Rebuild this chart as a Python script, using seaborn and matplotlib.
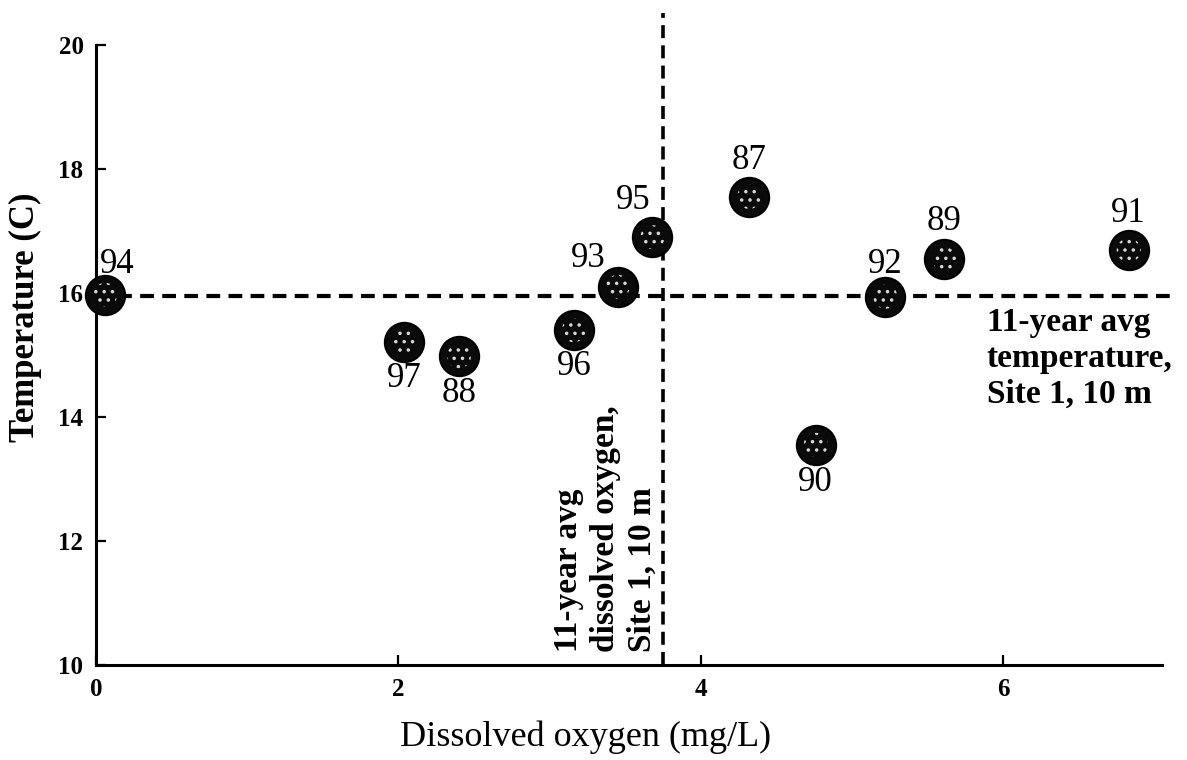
import matplotlib
matplotlib.use("Agg")
import matplotlib.pyplot as plt
import seaborn as sns
import pandas as pd

# Annual observations, Site 1 at 10 m depth
years = ["94", "97", "88", "96", "93", "95", "87", "90", "92", "89", "91"]
dissolved_oxygen = [0.06, 2.04, 2.40, 3.16, 3.45, 3.68, 4.32, 4.76, 5.22, 5.61, 6.83]
temperature = [15.97, 15.21, 14.98, 15.40, 16.10, 16.90, 17.55, 13.55, 15.94, 16.55, 16.69]

# 11-year averages
avg_oxygen = 3.75
avg_temperature = 15.95

x_ticks = [0, 2, 4, 6]
y_ticks = [10, 12, 14, 16, 18, 20]

# label placement (pixel offsets from each marker)
label_offsets = {
    "94": (12, 30), "97": (0, -37), "88": (0, -37), "96": (0, -36),
    "93": (-29, 28), "95": (-19, 37), "87": (0, 36), "90": (0, -38),
    "92": (0, 32), "89": (0, 37), "91": (0, 37),
}

df = pd.DataFrame({"year": years, "do": dissolved_oxygen, "temp": temperature})

sns.set_style("ticks")
serif = ["Liberation Serif", "DejaVu Serif"]
plt.rcParams["font.family"] = serif
plt.rcParams["text.color"] = "black"
plt.rcParams["axes.labelcolor"] = "black"
plt.rcParams["xtick.color"] = "black"
plt.rcParams["ytick.color"] = "black"
plt.rcParams["hatch.linewidth"] = 1.3

fig = plt.figure(figsize=(11.87, 7.60), dpi=100)
ax = fig.add_axes([96 / 1187, 95 / 760, (1162 - 96) / 1187, (715 - 95) / 760])

# reference lines
ax.plot([0, 7.1], [avg_temperature, avg_temperature], color="black", lw=3,
        linestyle=(0, (3.3, 2.0)), clip_on=False, zorder=2)
ax.plot([avg_oxygen, avg_oxygen], [10, 20.52], color="black", lw=2.6,
        linestyle=(0, (3.6, 2.0)), clip_on=False, zorder=2)

# stippled dark markers
sns.scatterplot(data=df, x="do", y="temp", ax=ax, s=800, color="#0a0a0a",
                edgecolor="black", linewidth=1.5, zorder=3, clip_on=False,
                legend=False)
ax.scatter(df["do"], df["temp"], s=300, facecolor="none", edgecolor="#d8d8d8",
           hatch="..", linewidth=0, zorder=4, clip_on=False)

for yr, xv, yv in zip(years, dissolved_oxygen, temperature):
    dx, dy = label_offsets[yr]
    ax.annotate(yr, (xv, yv), xytext=(dx, dy), textcoords="offset pixels",
                ha="center", va="center", fontsize=25, color="black",
                family=serif, zorder=5)

ax.text(5.89, 15.78, "11-year avg\ntemperature,\nSite 1, 10 m",
        ha="left", va="top", fontsize=24, fontweight="bold", family=serif,
        linespacing=1.22)
ax.text(3.715, 10.21, "11-year avg\ndissolved oxygen,\nSite 1, 10 m",
        rotation=90, ha="right", va="bottom", multialignment="left",
        fontsize=24, fontweight="bold", family=serif, linespacing=1.25)

ax.set_xlim(0, 7.05)
ax.set_ylim(10, 20)
ax.set_xticks(x_ticks)
ax.set_yticks(y_ticks)
ax.set_xticklabels([str(t) for t in x_ticks], fontsize=18, fontweight="bold")
ax.set_yticklabels([str(t) for t in y_ticks], fontsize=18, fontweight="bold")
ax.tick_params(direction="in", length=7, width=1.6, pad=9, colors="black")

ax.set_xlabel("Dissolved oxygen (mg/L)", fontsize=26)
ax.set_ylabel("Temperature (C)", fontsize=25, fontweight="bold")
ax.xaxis.set_label_coords(0.459, -0.09)
ax.yaxis.set_label_coords(-0.0507, 0.561)

sns.despine(ax=ax)
for side in ("left", "bottom"):
    ax.spines[side].set_linewidth(2.2)
    ax.spines[side].set_color("black")

fig.savefig("out.png", dpi=100, facecolor="white")
